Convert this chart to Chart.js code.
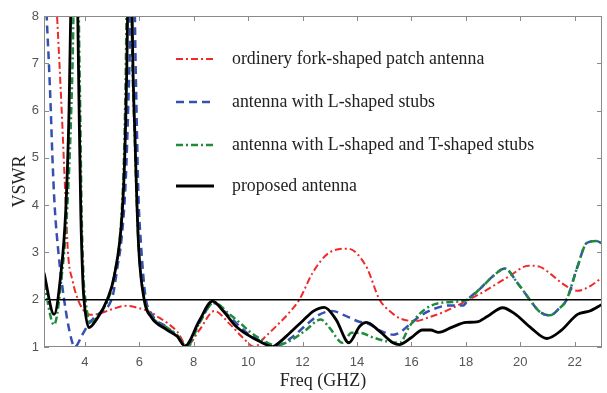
<!DOCTYPE html>
<html>
<head>
<meta charset="utf-8">
<script src="https://cdn.jsdelivr.net/npm/chart.js@4.4.0/dist/chart.umd.min.js"></script>
<style>
  html, body { margin: 0; padding: 0; background: #fff; }
  #wrap { width: 607px; height: 393px; }
</style>
</head>
<body>
<div id="wrap"><canvas id="vswr-chart" width="607" height="393"></canvas></div>
<script>
// values
var xTicks = [4, 6, 8, 10, 12, 14, 16, 18, 20, 22];
var yTicks = [1, 2, 3, 4, 5, 6, 7, 8];
var threshold = 2;

var forkFreq = [2.5, 2.8, 2.98, 3.15, 3.3, 3.38, 3.55, 3.75, 3.95, 4.2, 4.5, 5.0, 5.5, 6.0, 6.4, 6.73, 7.0, 7.4, 7.75, 8.2, 8.76, 9.3, 9.8, 10.23, 10.6, 11.03, 11.5, 11.88, 12.37, 12.99, 13.66, 14.34, 14.83, 15.2, 15.6, 16.18, 16.6, 17.15, 17.6, 18.0, 18.5, 19.0, 19.6, 20.3, 20.7, 21.1, 21.6, 22.1, 22.6, 23.0];
var forkVswr = [14, 10, 8, 6, 4, 3, 2.4, 2.0, 1.78, 1.68, 1.7, 1.8, 1.87, 1.82, 1.74, 1.62, 1.52, 1.32, 1.03, 1.35, 1.76, 1.5, 1.2, 1.0, 1.2, 1.44, 1.72, 2.0, 2.57, 3.0, 3.08, 2.7, 2.0, 1.76, 1.6, 1.55, 1.62, 1.73, 1.85, 1.97, 2.12, 2.29, 2.5, 2.72, 2.7, 2.55, 2.32, 2.19, 2.3, 2.47];

var lStubFreq = [2.5, 2.6, 2.68, 2.75, 2.81, 2.89, 3.03, 3.24, 3.45, 3.63, 3.9, 4.16, 4.5, 4.9, 5.05, 5.2, 5.35, 5.5, 5.6, 5.67, 5.75, 5.84, 5.9, 5.97, 6.06, 6.22, 6.45, 7.0, 7.4, 7.72, 8.2, 8.72, 9.3, 10.0, 10.5, 11.0, 11.6, 12.1, 12.6, 13.1, 13.5, 14.0, 14.46, 14.83, 15.35, 15.93, 16.3, 16.8, 17.4, 17.9, 18.1, 18.5, 19.0, 19.43, 19.9, 20.35, 20.7, 21.09, 21.4, 21.7, 22.1, 22.44, 22.8, 23.0];
var lStubVswr = [10, 8, 7, 6, 5, 4, 3, 2, 1.3, 1.0, 1.25, 1.5, 1.7, 1.9, 2.15, 2.7, 3.3, 4.5, 6.2, 8, 14, 8, 6, 4.2, 3.2, 2.1, 1.7, 1.42, 1.22, 1.0, 1.5, 1.93, 1.65, 1.28, 1.12, 1.02, 1.2, 1.45, 1.68, 1.76, 1.68, 1.55, 1.48, 1.35, 1.26, 1.47, 1.65, 1.8, 1.88, 1.88, 2.02, 2.22, 2.5, 2.66, 2.35, 2.0, 1.75, 1.67, 1.8, 2.0, 2.7, 3.2, 3.24, 3.19];

var ltStubFreq = [2.5, 2.87, 3.15, 3.35, 3.5, 3.58, 3.68, 3.78, 3.83, 3.88, 3.95, 4.02, 4.22, 4.5, 4.85, 5.08, 5.36, 5.46, 5.53, 5.62, 5.72, 5.84, 5.97, 6.2, 6.45, 7.0, 7.4, 7.77, 8.2, 8.75, 9.3, 9.68, 10.05, 10.6, 11.03, 11.6, 12.1, 12.67, 13.0, 13.46, 13.8, 14.1, 14.6, 15.1, 15.57, 15.93, 16.3, 16.67, 17.15, 18.0, 18.5, 19.0, 19.43, 19.9, 20.35, 20.7, 21.09, 21.4, 21.7, 22.1, 22.44, 22.8, 23.0];
var ltStubVswr = [2.35, 1.47, 2.5, 3.9, 6, 8, 14, 8, 6, 3.9, 2.5, 2.0, 1.5, 1.68, 2.0, 2.5, 3.9, 5.5, 8, 14, 8, 5.3, 3.2, 2.0, 1.65, 1.42, 1.25, 1.0, 1.5, 1.94, 1.7, 1.52, 1.33, 1.12, 1.03, 1.15, 1.35, 1.58, 1.4, 1.09, 1.3, 1.3, 1.2, 1.12, 1.09, 1.44, 1.7, 1.86, 1.94, 1.99, 2.22, 2.5, 2.66, 2.35, 2.0, 1.75, 1.67, 1.8, 2.0, 2.7, 3.2, 3.24, 3.19];

var proposedFreq = [2.5, 2.87, 3.11, 3.3, 3.42, 3.48, 3.6, 3.74, 3.79, 3.85, 3.92, 3.97, 4.15, 4.45, 4.82, 5.08, 5.38, 5.48, 5.57, 5.66, 5.74, 5.85, 5.97, 6.18, 6.43, 7.0, 7.4, 7.68, 8.2, 8.69, 9.1, 9.55, 10.0, 10.41, 10.9, 11.15, 11.5, 12.0, 12.4, 12.8, 13.23, 13.7, 14.1, 14.35, 14.83, 15.32, 15.55, 16.0, 16.4, 16.7, 17.0, 17.5, 18.0, 18.4, 18.8, 19.35, 19.8, 20.4, 20.98, 21.5, 22.1, 22.55, 23.0];
var proposedVswr = [2.57, 1.69, 2.5, 3.9, 6, 8, 14, 8, 6, 3.9, 2.5, 2.0, 1.41, 1.6, 2.0, 2.5, 3.9, 5.3, 8, 14, 8, 5.3, 3.2, 2.0, 1.64, 1.37, 1.22, 1.02, 1.55, 1.97, 1.75, 1.44, 1.25, 1.12, 1.01, 1.1, 1.28, 1.55, 1.76, 1.84, 1.58, 1.09, 1.44, 1.52, 1.33, 1.09, 1.05, 1.2, 1.36, 1.36, 1.31, 1.42, 1.52, 1.53, 1.65, 1.83, 1.7, 1.4, 1.18, 1.35, 1.69, 1.76, 1.9];

function points(xs, ys) {
  return xs.map(function (x, i) { return { x: x, y: ys[i] }; });
}

var serif = "'Liberation Serif', 'Times New Roman', serif";
var sans = "'Liberation Sans', Arial, sans-serif";

// inward ticks and a full frame like the original figure
var frameTicks = {
  id: "frameTicks",
  afterDraw: function (chart) {
    var ctx = chart.ctx;
    var a = chart.chartArea;
    var xs = chart.scales.x;
    var ys = chart.scales.y;
    ctx.save();
    ctx.strokeStyle = "#8a8a8a";
    ctx.lineWidth = 1;
    ctx.strokeRect(a.left + 0.5, a.top + 0.5, a.right - a.left - 1, a.bottom - a.top - 1);
    ctx.beginPath();
    xTicks.forEach(function (v) {
      var px = Math.round(xs.getPixelForValue(v)) + 0.5;
      ctx.moveTo(px, a.bottom); ctx.lineTo(px, a.bottom - 5);
      ctx.moveTo(px, a.top); ctx.lineTo(px, a.top + 5);
    });
    yTicks.forEach(function (v) {
      var py = Math.round(ys.getPixelForValue(v)) + 0.5;
      ctx.moveTo(a.left, py); ctx.lineTo(a.left + 5, py);
      ctx.moveTo(a.right, py); ctx.lineTo(a.right - 5, py);
    });
    ctx.stroke();
    ctx.restore();
  }
};

// legend placed inside the plot area
var innerLegend = {
  id: "innerLegend",
  afterDraw: function (chart) {
    var ctx = chart.ctx;
    var rows = [59, 102, 145, 186];
    var n = 0;
    ctx.save();
    chart.data.datasets.forEach(function (ds) {
      if (!ds.label) return;
      var y = rows[n++];
      ctx.strokeStyle = ds.borderColor;
      ctx.lineWidth = ds.borderWidth;
      ctx.setLineDash(ds.borderDash || []);
      ctx.beginPath();
      ctx.moveTo(176, y);
      ctx.lineTo(214, y);
      ctx.stroke();
      ctx.setLineDash([]);
      ctx.fillStyle = "#222";
      ctx.font = "17.8px " + serif;
      ctx.textBaseline = "middle";
      ctx.fillText(ds.label, 232, y);
    });
    ctx.restore();
  }
};

var config = {
  type: "line",
  data: {
    datasets: [
      {
        label: "ordinery fork-shaped patch antenna",
        data: points(forkFreq, forkVswr),
        borderColor: "#ee2a2a",
        borderWidth: 2,
        borderDash: [7, 3, 2, 3],
        order: 4
      },
      {
        label: "antenna with L-shaped stubs",
        data: points(lStubFreq, lStubVswr),
        borderColor: "#3550b0",
        borderWidth: 2.5,
        borderDash: [8, 5],
        order: 3
      },
      {
        label: "antenna with L-shaped and T-shaped stubs",
        data: points(ltStubFreq, ltStubVswr),
        borderColor: "#1f8b3b",
        borderWidth: 2.5,
        borderDash: [7, 3, 2, 3],
        order: 2
      },
      {
        label: "proposed antenna",
        data: points(proposedFreq, proposedVswr),
        borderColor: "#000",
        borderWidth: 2.8,
        order: 0
      },
      {
        label: "",
        data: [{ x: 2.5, y: threshold }, { x: 23, y: threshold }],
        borderColor: "#000",
        borderWidth: 1.5,
        cubicInterpolationMode: "default",
        order: 1
      }
    ]
  },
  options: {
    responsive: false,
    animation: false,
    devicePixelRatio: 1,
    layout: { padding: { top: 16, right: 5, left: 0, bottom: 0 } },
    elements: {
      point: { radius: 0 },
      line: { cubicInterpolationMode: "monotone", borderCapStyle: "butt", borderJoinStyle: "round" }
    },
    plugins: { legend: { display: false }, tooltip: { enabled: false } },
    scales: {
      x: {
        type: "linear",
        min: 2.5,
        max: 23,
        afterBuildTicks: function (scale) {
          scale.ticks = xTicks.map(function (v) { return { value: v }; });
        },
        afterFit: function (scale) { scale.height = 46; },
        grid: { display: false, drawTicks: false },
        border: { display: false },
        ticks: { color: "#555", padding: 8, font: { family: sans, size: 13 }, maxRotation: 0 },
        title: { display: true, text: "Freq (GHZ)", color: "#222", font: { family: serif, size: 18 }, padding: { top: 0, bottom: 1 } }
      },
      y: {
        type: "linear",
        min: 1,
        max: 8,
        afterBuildTicks: function (scale) {
          scale.ticks = yTicks.map(function (v) { return { value: v }; });
        },
        afterFit: function (scale) { scale.width = 44; },
        grid: { display: false, drawTicks: false },
        border: { display: false },
        ticks: { color: "#555", padding: 5, font: { family: sans, size: 13 } },
        title: { display: true, text: "VSWR", color: "#222", font: { family: serif, size: 18 }, padding: { top: 9, bottom: 0 } }
      }
    }
  },
  plugins: [frameTicks, innerLegend]
};

var ctx = document.getElementById("vswr-chart").getContext("2d");
window.vswrChart = new Chart(ctx, config);
</script>
</body>
</html>
